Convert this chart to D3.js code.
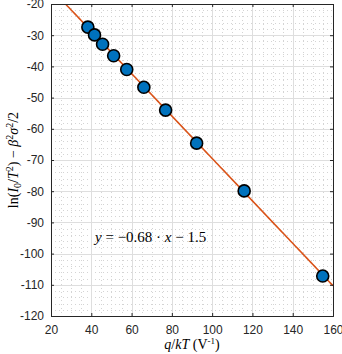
<!DOCTYPE html>
<html><head><meta charset="utf-8">
<script src="https://cdn.jsdelivr.net/npm/d3@7"></script>
<style>body{margin:0;background:#fff}svg{display:block}</style>
</head><body>
<script>
const qkT = [38.3, 41.6, 45.6, 51.1, 57.6, 66.1, 76.9, 92.3, 115.9, 154.9];
const yVals = [-27.4, -29.9, -32.9, -36.6, -41.0, -46.7, -54.0, -64.6, -79.9, -107.2];
const slope = -0.68, intercept = -1.5;
const xTicks = [20, 40, 60, 80, 100, 120, 140, 160];
const yTicks = [-20, -30, -40, -50, -60, -70, -80, -90, -100, -110, -120];

const W = 342, H = 354;
const L = 51, R = 333, T = 4, B = 316;
const svg = d3.select("body").append("svg").attr("width", W).attr("height", H);
const x = d3.scaleLinear().domain([20, 160]).range([L, R]);
const y = d3.scaleLinear().domain([-120, -20]).range([B, T]);

// minor grid
const xMinor = d3.range(20, 160.01, 5).filter(v => v % 20 !== 0);
const yMinor = d3.range(-120, -19.99, 2).filter(v => Math.round(v) % 10 !== 0);
const g = svg.append("g");
g.selectAll(".xm").data(xMinor).join("line")
  .attr("x1", d => Math.round(x(d)) + 0.5).attr("x2", d => Math.round(x(d)) + 0.5)
  .attr("y1", T).attr("y2", B)
  .attr("stroke", "#d4d4d4").attr("stroke-width", 1).attr("stroke-dasharray", "1,3");
g.selectAll(".ym").data(yMinor).join("line")
  .attr("y1", d => Math.round(y(d)) + 0.5).attr("y2", d => Math.round(y(d)) + 0.5)
  .attr("x1", L).attr("x2", R)
  .attr("stroke", "#d4d4d4").attr("stroke-width", 1).attr("stroke-dasharray", "1,3");
// major grid
g.selectAll(".xg").data(xTicks).join("line")
  .attr("x1", d => Math.round(x(d)) + 0.5).attr("x2", d => Math.round(x(d)) + 0.5)
  .attr("y1", T).attr("y2", B).attr("stroke", "#dedede");
g.selectAll(".yg").data(yTicks).join("line")
  .attr("y1", d => Math.round(y(d)) + 0.5).attr("y2", d => Math.round(y(d)) + 0.5)
  .attr("x1", L).attr("x2", R).attr("stroke", "#dedede");

// fit line
svg.append("defs").append("clipPath").attr("id", "clip")
  .append("rect").attr("x", L).attr("y", T).attr("width", R - L).attr("height", B - T);
const lx = d3.range(20, 160.01, 1);
svg.append("path").attr("clip-path", "url(#clip)")
  .attr("d", d3.line().x(d => x(d)).y(d => y(slope * d + intercept))(lx))
  .attr("fill", "none").attr("stroke", "#D95319").attr("stroke-width", 1.6);

// points
svg.selectAll(".pt").data(qkT).join("circle")
  .attr("cx", d => x(d)).attr("cy", (d, i) => y(yVals[i])).attr("r", 6)
  .attr("fill", "#0072BD").attr("stroke", "#000").attr("stroke-width", 1.6);

// axes
const ax = "#262626";
const xb = svg.append("g").attr("transform", `translate(0,${B})`)
  .call(d3.axisBottom(x).tickValues(xTicks).tickSize(-3).tickPadding(9).tickFormat(d3.format("d")));
const xt = svg.append("g").attr("transform", `translate(0,${T})`)
  .call(d3.axisTop(x).tickValues(xTicks).tickSize(-3).tickFormat(""));
const yl = svg.append("g").attr("transform", `translate(${L},0)`)
  .call(d3.axisLeft(y).tickValues(yTicks).tickSize(-3).tickPadding(7).tickFormat(d => String(d)));
const yr = svg.append("g").attr("transform", `translate(${R},0)`)
  .call(d3.axisRight(y).tickValues(yTicks).tickSize(-3).tickFormat(""));
[xb, xt, yl, yr].forEach(a => {
  a.selectAll("path").attr("stroke", ax);
  a.selectAll("line").attr("stroke", ax);
  a.selectAll("text").attr("fill", ax).style("font-family", "Liberation Sans, Arial, sans-serif").style("font-size", "12px");
});

// labels
const serif = "Liberation Serif, 'Times New Roman', serif";
const xl = svg.append("text").attr("x", (L + R) / 2).attr("y", 349).attr("text-anchor", "middle")
  .style("font-family", serif).style("font-size", "14px").attr("fill", "#000");
xl.append("tspan").style("font-style", "italic").text("q");
xl.append("tspan").text("/");
xl.append("tspan").style("font-style", "italic").text("kT");
xl.append("tspan").text(" (V");
xl.append("tspan").attr("dy", -5).style("font-size", "9px").text("-1");
xl.append("tspan").attr("dy", 5).text(")");

const ylab = svg.append("text").attr("transform", `translate(18,${(T + B) / 2}) rotate(-90)`)
  .attr("text-anchor", "middle").style("font-family", serif).style("font-size", "14px").attr("fill", "#000");
ylab.append("tspan").text("ln(");
ylab.append("tspan").style("font-style", "italic").text("I");
ylab.append("tspan").attr("dy", 3).style("font-size", "10px").text("0");
ylab.append("tspan").attr("dy", -3).text("/");
ylab.append("tspan").style("font-style", "italic").text("T");
ylab.append("tspan").attr("dy", -5).style("font-size", "10px").text("2");
ylab.append("tspan").attr("dy", 5).text(") − ");
ylab.append("tspan").style("font-style", "italic").text("β");
ylab.append("tspan").attr("dy", -5).style("font-size", "10px").text("2");
ylab.append("tspan").attr("dy", 5).style("font-style", "italic").text("σ");
ylab.append("tspan").attr("dy", -5).style("font-size", "10px").text("2");
ylab.append("tspan").attr("dy", 5).text("/2");

const eq = svg.append("text").attr("x", 95).attr("y", 242)
  .style("font-family", serif).style("font-size", "15px").attr("fill", "#000");
eq.append("tspan").style("font-style", "italic").text("y");
eq.append("tspan").text(" = −0.68 · ");
eq.append("tspan").style("font-style", "italic").text("x");
eq.append("tspan").text(" − 1.5");
</script>
</body></html>
